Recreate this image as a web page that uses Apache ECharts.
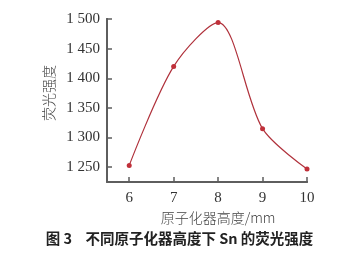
<!DOCTYPE html>
<html><head><meta charset="utf-8">
<script src="https://cdn.jsdelivr.net/npm/echarts@6/dist/echarts.min.js"></script>
<style>html,body{margin:0;padding:0;background:#fff}#c{width:359px;height:253px}</style>
</head><body><div id="c"></div>
<script>
const heights = [6, 7, 8, 9, 10];
const intensity = [1253, 1420, 1494, 1315, 1247];
const yTicks = [1250, 1300, 1350, 1400, 1450, 1500];
const xTicks = [6, 7, 8, 9, 10];
const xName = '原子化器高度/mm';
const yName = '荧光强度';

const chart = echarts.init(document.getElementById('c'));
const serif = '"Liberation Serif","DejaVu Serif",serif';
const cjk = '"Noto Sans CJK SC"';
const axisColor = '#5e5e5e';

const L = 107, R = 52, T = 19, B = 71, W = 359 - L - R, H = 253 - T - B;
const xMin = 5.5, xMax = 10, yMin = 1225, yMax = 1500;
const pxX = W / (xMax - xMin), pxY = H / (yMax - yMin);
const dx = (xTicks[0] - xMin) * pxX, dy = (yTicks[0] - yMin) * pxY;

chart.setOption({
  animation: false,
  grid: [
    {left: L, right: R, top: T, bottom: B},          // data + axis lines
    {left: L, right: R, top: T, bottom: B + dy},     // y ticks/labels
    {left: L + dx, right: R, top: T, bottom: B}      // x ticks/labels
  ],
  xAxis: [{
    gridIndex: 0, type: 'value', min: xMin, max: xMax,
    axisLine: {show: true, onZero: false, lineStyle: {color: axisColor, width: 2}},
    axisTick: {show: false}, axisLabel: {show: false}, splitLine: {show: false}
  }, {
    gridIndex: 1, type: 'value', min: xMin, max: xMax, show: false, splitLine: {show: false}
  }, {
    gridIndex: 2, type: 'value', min: xTicks[0], max: xTicks[xTicks.length - 1], interval: 1,
    name: xName, nameLocation: 'middle', nameGap: 26,
    nameTextStyle: {fontFamily: cjk, fontSize: 14, fontWeight: 300, color: '#444'},
    axisLine: {show: true, lineStyle: {color: axisColor, width: 2}},
    axisTick: {show: true, inside: true, length: 5, lineStyle: {color: axisColor, width: 1.5}},
    axisLabel: {fontFamily: serif, fontSize: 15, color: '#333', margin: 9},
    splitLine: {show: false}
  }],
  yAxis: [{
    gridIndex: 0, type: 'value', min: yMin, max: yMax,
    axisLine: {show: true, onZero: false, lineStyle: {color: axisColor, width: 2}},
    axisTick: {show: false}, axisLabel: {show: false}, splitLine: {show: false}
  }, {
    gridIndex: 1, type: 'value', min: yTicks[0], max: yTicks[yTicks.length - 1], interval: 50,
    name: yName, nameLocation: 'middle', nameGap: 46, nameRotate: 90,
    nameTextStyle: {fontFamily: cjk, fontSize: 14, fontWeight: 300, color: '#444'},
    axisLine: {show: true, lineStyle: {color: axisColor, width: 2}},
    axisTick: {show: true, inside: true, length: 5, lineStyle: {color: axisColor, width: 1.5}},
    axisLabel: {fontFamily: serif, fontSize: 15, color: '#333', margin: 7,
      formatter: v => { const s = String(v); return s.slice(0, 1) + ' ' + s.slice(1); }},
    splitLine: {show: false}
  }, {
    gridIndex: 2, type: 'value', min: yMin, max: yMax, show: false, splitLine: {show: false}
  }],
  series: [{
    type: 'line', xAxisIndex: 0, yAxisIndex: 0,
    data: heights.map((h, i) => [h, intensity[i]]),
    smooth: 0.3, symbol: 'circle', symbolSize: 5,
    itemStyle: {color: '#c0303a'},
    lineStyle: {color: '#b0323c', width: 1.2}
  }],
  graphic: [{
    type: 'text', left: 'center', top: 231,
    style: {
      text: '{b|图 3}    {n|不同原子化器高度下 }{b|Sn}{n| 的荧光强度}',
      rich: {
        b: {fontFamily: cjk, fontWeight: 'bold', fontSize: 14.5, fill: '#222'},
        n: {fontFamily: cjk, fontWeight: 'bold', fontSize: 14.5, fill: '#222'}
      }
    }
  }]
});
</script></body></html>
